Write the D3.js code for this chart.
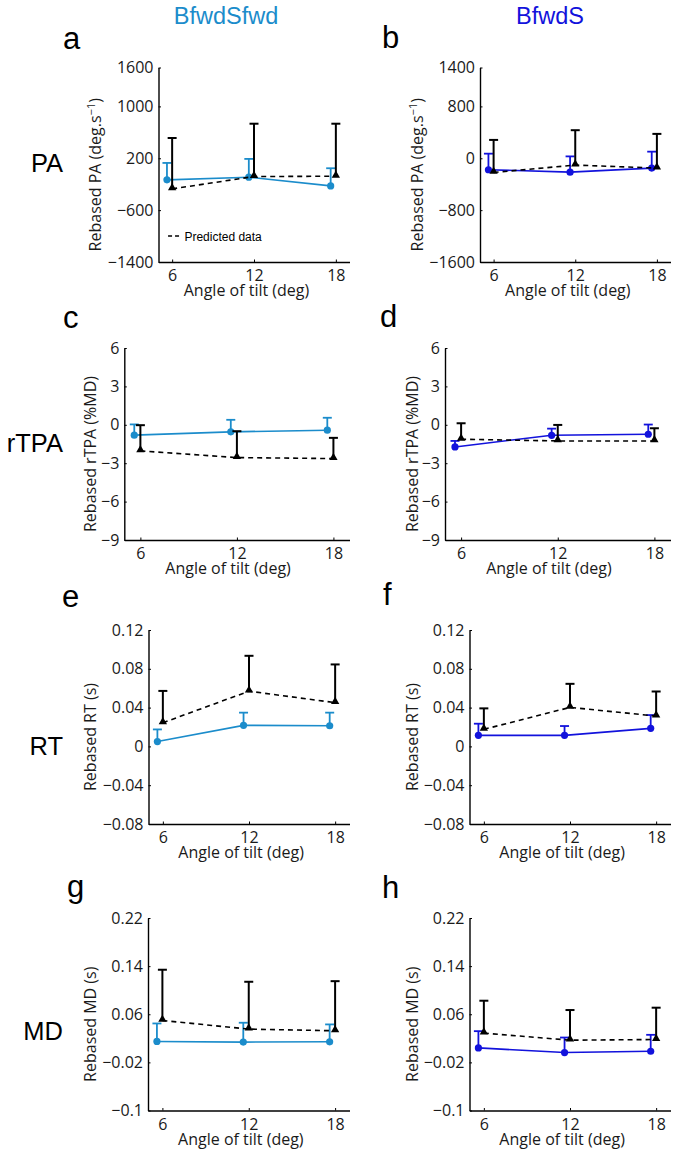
<!DOCTYPE html>
<html><head><meta charset="utf-8">
<script src="https://cdn.jsdelivr.net/npm/d3@7"></script>
<style>body{margin:0;background:#fff;} svg{display:block;}</style>
</head><body><svg id="chart" width="675" height="1154"></svg>
<script>
// ---------------- DATA ----------------
const angles = [6, 12, 18];
const conditions = ["BfwdSfwd", "BfwdS"];
const measures = ["PA", "rTPA", "RT", "MD"];
const panelLetters = ["a", "b", "c", "d", "e", "f", "g", "h"];
const legendLabel = "Predicted data";
const xLabel = "Angle of tilt (deg)";

// PA (deg.s-1)
const paSfwdObsMean = [-133, -92, -226];
const paSfwdObsSD = [261, 282, 272];
const paSfwdPredMean = [-272, -82, -77];
const paSfwdPredSD = [785, 815, 810];
const paSObsMean = [-177, -214, -152];
const paSObsSD = [248, 243, 254];
const paSPredMean = [-219, -105, -152];
const paSPredSD = [502, 538, 528];

// rTPA (%MD)
const rtpaSfwdObsMean = [-0.81, -0.55, -0.42];
const rtpaSfwdObsSD = [0.84, 0.94, 0.97];
const rtpaSfwdPredMean = [-2.04, -2.56, -2.64];
const rtpaSfwdPredSD = [2.01, 2.06, 1.62];
const rtpaSObsMean = [-1.73, -0.82, -0.74];
const rtpaSObsSD = [0.47, 0.52, 0.76];
const rtpaSPredMean = [-1.13, -1.26, -1.26];
const rtpaSPredSD = [1.25, 1.25, 0.99];

// RT (s)
const rtSfwdObsMean = [0.005, 0.0217, 0.0213];
const rtSfwdObsSD = [0.0125, 0.0131, 0.0135];
const rtSfwdPredMean = [0.0244, 0.0569, 0.0451];
const rtSfwdPredSD = [0.0328, 0.0365, 0.0394];
const rtSObsMean = [0.0114, 0.0114, 0.0186];
const rtSObsSD = [0.0120, 0.0096, 0.0137];
const rtSPredMean = [0.0176, 0.0402, 0.0313];
const rtSPredSD = [0.0216, 0.0243, 0.0253];

// MD (s)
const mdSfwdObsMean = [0.0148, 0.0137, 0.0142];
const mdSfwdObsSD = [0.0299, 0.0322, 0.0289];
const mdSfwdPredMean = [0.0497, 0.0353, 0.0325];
const mdSfwdPredSD = [0.0843, 0.0787, 0.0825];
const mdSObsMean = [0.0041, -0.0037, -0.0015];
const mdSObsSD = [0.0278, 0.0250, 0.0273];
const mdSPredMean = [0.0286, 0.0169, 0.0180];
const mdSPredSD = [0.0539, 0.0501, 0.0529];

// tick values / labels
const yTicksPASfwd = [-1400, -600, 200, 1000, 1600];
const yTickLabelsPASfwd = ["\u22121400", "\u2212600", "200", "1000", "1600"];
const yTicksPAS = [-1600, -800, 0, 800, 1400];
const yTickLabelsPAS = ["\u22121600", "\u2212800", "0", "800", "1400"];
const yTicksRTPA = [-9, -6, -3, 0, 3, 6];
const yTickLabelsRTPA = ["\u22129", "\u22126", "\u22123", "0", "3", "6"];
const yTicksRT = [-0.08, -0.04, 0, 0.04, 0.08, 0.12];
const yTickLabelsRT = ["\u22120.08", "\u22120.04", "0", "0.04", "0.08", "0.12"];
const yTicksMD = [-0.1, -0.02, 0.06, 0.14, 0.22];
const yTickLabelsMD = ["\u22120.1", "\u22120.02", "0.06", "0.14", "0.22"];
const xTickLabels = ["6", "12", "18"];

// ---------------- STYLE / LAYOUT ----------------
const condColors = {BfwdSfwd: "#1b8ccb", BfwdS: "#1212dc"};
const xDomain = [5, 19];
const obsOffset = -0.38;
const rowBox = [
  {top: 67.5, bottom: 262},
  {top: 348, bottom: 540},
  {top: 630, bottom: 824},
  {top: 918, bottom: 1110.5}
];
const colRight = [349.5, 670.5];
const axisLefts = [[158.5, 480], [124.3, 445], [148.5, 469.5], [148, 469.5]];
const yLabelX = [[100.5, 423], [96, 418], [96, 418], [96, 418]];
const letterPos = [[63, 49], [382, 48], [63, 328], [380, 327], [62, 607], [383, 605], [67, 897], [382, 898]];
const rowLabelBaseline = [172, 451.5, 755, 1040];
const titleX = [226, 550];

const panels = [
  {m: "PA", c: "BfwdSfwd", domain: [-1400, 1600], ticks: yTicksPASfwd, tl: yTickLabelsPASfwd,
   om: paSfwdObsMean, os: paSfwdObsSD, pm: paSfwdPredMean, ps: paSfwdPredSD, legend: true},
  {m: "PA", c: "BfwdS", domain: [-1600, 1400], ticks: yTicksPAS, tl: yTickLabelsPAS,
   om: paSObsMean, os: paSObsSD, pm: paSPredMean, ps: paSPredSD},
  {m: "rTPA", c: "BfwdSfwd", domain: [-9, 6], ticks: yTicksRTPA, tl: yTickLabelsRTPA,
   om: rtpaSfwdObsMean, os: rtpaSfwdObsSD, pm: rtpaSfwdPredMean, ps: rtpaSfwdPredSD},
  {m: "rTPA", c: "BfwdS", domain: [-9, 6], ticks: yTicksRTPA, tl: yTickLabelsRTPA,
   om: rtpaSObsMean, os: rtpaSObsSD, pm: rtpaSPredMean, ps: rtpaSPredSD},
  {m: "RT", c: "BfwdSfwd", domain: [-0.08, 0.12], ticks: yTicksRT, tl: yTickLabelsRT,
   om: rtSfwdObsMean, os: rtSfwdObsSD, pm: rtSfwdPredMean, ps: rtSfwdPredSD},
  {m: "RT", c: "BfwdS", domain: [-0.08, 0.12], ticks: yTicksRT, tl: yTickLabelsRT,
   om: rtSObsMean, os: rtSObsSD, pm: rtSPredMean, ps: rtSPredSD},
  {m: "MD", c: "BfwdSfwd", domain: [-0.1, 0.22], ticks: yTicksMD, tl: yTickLabelsMD,
   om: mdSfwdObsMean, os: mdSfwdObsSD, pm: mdSfwdPredMean, ps: mdSfwdPredSD},
  {m: "MD", c: "BfwdS", domain: [-0.1, 0.22], ticks: yTicksMD, tl: yTickLabelsMD,
   om: mdSObsMean, os: mdSObsSD, pm: mdSPredMean, ps: mdSPredSD}
];

const yLabelText = {PA: "Rebased PA (deg.s", rTPA: "Rebased rTPA (%MD)", RT: "Rebased RT (s)", MD: "Rebased MD (s)"};

const svg = d3.select("#chart");
const tickFont = "'Open Sans', sans-serif";
const arialFont = "'Liberation Sans', Arial, sans-serif";

// column titles
conditions.forEach((c, i) => {
  svg.append("text").attr("x", titleX[i]).attr("y", 24)
    .attr("text-anchor", "middle").attr("font-family", arialFont)
    .attr("font-size", 23.5).attr("fill", condColors[c]).text(c);
});

// row labels
measures.forEach((m, i) => {
  svg.append("text").attr("x", 63).attr("y", rowLabelBaseline[i])
    .attr("text-anchor", "end").attr("font-family", arialFont)
    .attr("font-size", 25.5).attr("fill", "#000").text(m);
});

panels.forEach((p, k) => {
  const row = Math.floor(k / 2), col = k % 2;
  const left = axisLefts[row][col], right = colRight[col];
  const top = rowBox[row].top, bottom = rowBox[row].bottom;
  const x = d3.scaleLinear().domain(xDomain).range([left, right]);
  const y = d3.scaleLinear().domain(p.domain).range([bottom, top]);
  const g = svg.append("g");

  // panel letter
  svg.append("text").attr("x", letterPos[k][0]).attr("y", letterPos[k][1])
    .attr("font-family", arialFont).attr("font-size", 31).text(panelLetters[k]);

  // axes
  const yAxis = d3.axisLeft(y).tickValues(p.ticks).tickFormat((d, i) => p.tl[i])
    .tickSizeInner(-2.5).tickSizeOuter(0).tickPadding(5);
  const xAxis = d3.axisBottom(x).tickValues(angles).tickFormat((d, i) => xTickLabels[i])
    .tickSizeInner(-2.5).tickSizeOuter(0).tickPadding(8);
  const ya = g.append("g").attr("transform", `translate(${left},0)`).call(yAxis);
  const xa = g.append("g").attr("transform", `translate(0,${bottom})`).call(xAxis);
  [ya, xa].forEach(a => {
    a.attr("font-family", tickFont).attr("font-size", 16);
    a.select(".domain").attr("stroke", "#000").attr("stroke-width", 1.4);
    a.selectAll(".tick line").attr("stroke", "#000").attr("stroke-width", 1);
    a.selectAll(".tick text").attr("fill", "#1a1a1a");
  });

  // x label
  g.append("text").attr("x", x(11.45)).attr("y", bottom + 34)
    .attr("text-anchor", "middle").attr("font-family", tickFont).attr("font-size", 16)
    .attr("fill", "#1a1a1a").text(xLabel);

  // y label
  const yl = g.append("text")
    .attr("transform", `translate(${yLabelX[row][col]},${(top + bottom) / 2 + 10}) rotate(-90)`)
    .attr("text-anchor", "middle").attr("font-family", tickFont).attr("font-size", 16)
    .attr("fill", "#1a1a1a");
  if (p.m === "PA") {
    yl.append("tspan").text(yLabelText.PA);
    yl.append("tspan").attr("dy", -6).attr("font-size", 11).text("\u22121");
    yl.append("tspan").attr("dy", 6).text(")");
  } else {
    yl.text(yLabelText[p.m]);
  }

  const color = condColors[p.c];
  const obs = angles.map((a, i) => ({x: a + obsOffset, m: p.om[i], s: p.os[i]}));
  const pred = angles.map((a, i) => ({x: a, m: p.pm[i], s: p.ps[i]}));
  const line = d3.line().x(d => x(d.x)).y(d => y(d.m));

  // observed (coloured)
  g.append("g").selectAll("line.eb").data(obs).enter().append("line")
    .attr("x1", d => x(d.x)).attr("x2", d => x(d.x))
    .attr("y1", d => y(d.m)).attr("y2", d => y(d.m + d.s))
    .attr("stroke", color).attr("stroke-width", 1.8);
  g.append("g").selectAll("line.cap").data(obs).enter().append("line")
    .attr("x1", d => x(d.x) - 4.5).attr("x2", d => x(d.x) + 4.5)
    .attr("y1", d => y(d.m + d.s)).attr("y2", d => y(d.m + d.s))
    .attr("stroke", color).attr("stroke-width", 1.8);
  g.append("path").datum(obs).attr("d", line).attr("fill", "none")
    .attr("stroke", color).attr("stroke-width", 1.6);
  g.append("g").selectAll("circle").data(obs).enter().append("circle")
    .attr("cx", d => x(d.x)).attr("cy", d => y(d.m)).attr("r", 3.6).attr("fill", color);

  // predicted (black, dashed)
  g.append("path").datum(pred).attr("d", line).attr("fill", "none")
    .attr("stroke", "#000").attr("stroke-width", 1.6).attr("stroke-dasharray", "5,4");
  g.append("g").selectAll("line.eb").data(pred).enter().append("line")
    .attr("x1", d => x(d.x)).attr("x2", d => x(d.x))
    .attr("y1", d => y(d.m)).attr("y2", d => y(d.m + d.s))
    .attr("stroke", "#000").attr("stroke-width", 2);
  g.append("g").selectAll("line.cap").data(pred).enter().append("line")
    .attr("x1", d => x(d.x) - 4.5).attr("x2", d => x(d.x) + 4.5)
    .attr("y1", d => y(d.m + d.s)).attr("y2", d => y(d.m + d.s))
    .attr("stroke", "#000").attr("stroke-width", 2);
  const tri = d3.symbol().type(d3.symbolTriangle).size(30);
  g.append("g").selectAll("path").data(pred).enter().append("path")
    .attr("d", tri).attr("transform", d => `translate(${x(d.x)},${y(d.m) - 1})`).attr("fill", "#000");

  if (p.legend) {
    const ly = y(-1000);
    g.append("line").attr("x1", x(5.7)).attr("x2", x(6.6)).attr("y1", ly).attr("y2", ly)
      .attr("stroke", "#000").attr("stroke-width", 1.6).attr("stroke-dasharray", "4,3");
    g.append("text").attr("x", x(6.9)).attr("y", ly + 4.5).attr("font-family", arialFont)
      .attr("font-size", 12).attr("fill", "#000").text(legendLabel);
  }
});
</script>
</body></html>
